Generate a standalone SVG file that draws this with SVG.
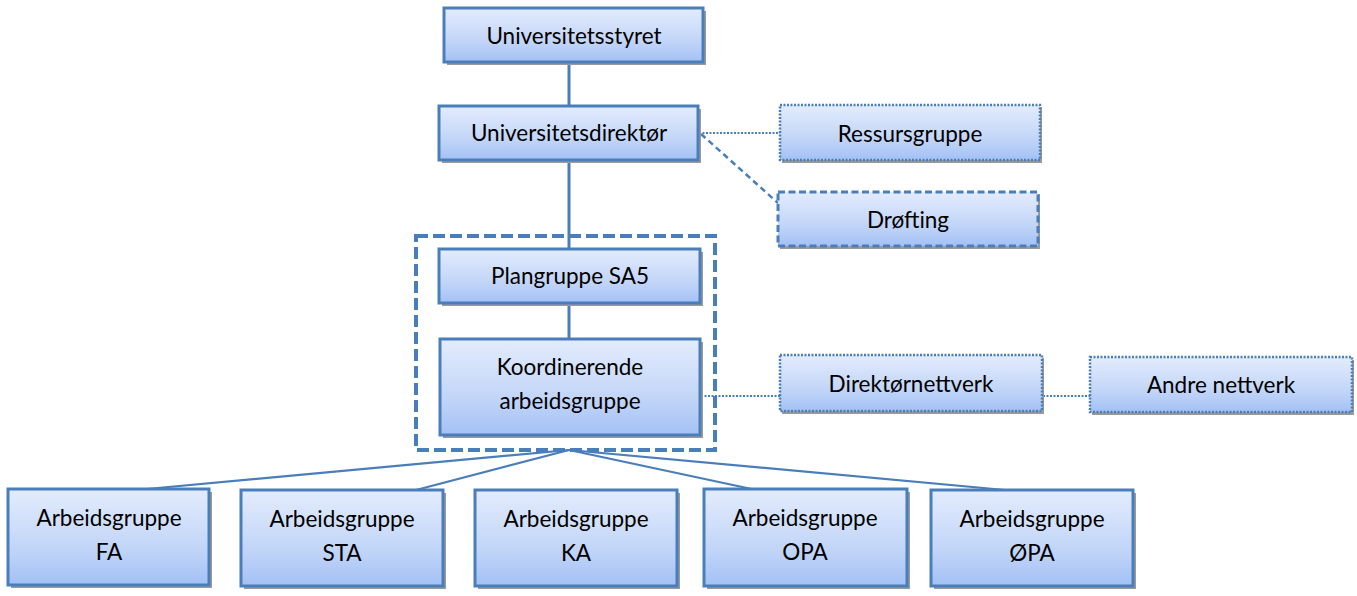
<svg xmlns="http://www.w3.org/2000/svg" width="1357" height="596" viewBox="0 0 1357 596">
<defs>
<linearGradient id="g" x1="0" y1="0" x2="0" y2="1">
<stop offset="0" stop-color="#e3ecfd"/>
<stop offset="0.6" stop-color="#c3d6f8"/>
<stop offset="1" stop-color="#a3c1f5"/>
</linearGradient>
</defs>
<style>
.box{fill:url(#g);stroke:#4a7ebb;stroke-width:3}
.dot{stroke-dasharray:2 1.5;stroke-width:2.5}
.dash{stroke-dasharray:7 3.5}
.sh{fill:#9a9a9a}
text{font-family:Lato,"Open Sans",sans-serif;font-size:22.5px;fill:#000;text-anchor:middle;dominant-baseline:central}
.ln{stroke:#4a7ebb;stroke-width:3;fill:none}
.thin{stroke:#4a7ebb;stroke-width:2.2;fill:none}
.dl{stroke:#4a7ebb;stroke-width:2;fill:none;stroke-dasharray:2 1.5}
.dsl{stroke:#4a7ebb;stroke-width:2.5;fill:none;stroke-dasharray:6 4}
</style>
<g id="connectors">
<line class="ln" x1="569" y1="62" x2="569" y2="106"/>
<line class="ln" x1="569" y1="160" x2="569" y2="249"/>
<line class="ln" x1="569" y1="303" x2="569" y2="339"/>
<line class="dl" x1="699" y1="133" x2="780" y2="133"/>
<line class="dsl" x1="701" y1="134" x2="778" y2="203"/>
<line class="dl" x1="701" y1="396" x2="780" y2="396"/>
<line class="dl" x1="1043" y1="396" x2="1090" y2="396"/>
<line class="thin" x1="569" y1="450" x2="147" y2="489"/>
<line class="thin" x1="569" y1="450" x2="416" y2="490"/>
<line class="thin" x1="569" y1="450" x2="761" y2="491"/>
<line class="thin" x1="569" y1="450" x2="1005" y2="490"/>
</g>
<g id="group-sa5">
<rect x="416" y="236" width="299" height="214" fill="none" stroke="#4a7ebb" stroke-width="4" stroke-dasharray="12 5"/>
</g>
<g id="n-styret">
<rect class="sh" x="447" y="11" width="259" height="54"/>
<rect class="box" x="444" y="8" width="259" height="54"/>
<text x="574" y="35">Universitetsstyret</text>
</g>
<g id="n-direktor">
<rect class="sh" x="442" y="109" width="259" height="54"/>
<rect class="box" x="439" y="106" width="259" height="54"/>
<text x="569" y="132">Universitetsdirektør</text>
</g>
<g id="n-ressurs">
<rect class="sh" x="782" y="107" width="260" height="56"/>
<rect class="box dot" x="780" y="105" width="260" height="55"/>
<text x="910" y="133">Ressursgruppe</text>
</g>
<g id="n-drofting">
<rect class="sh" x="780" y="194" width="260" height="55"/>
<rect class="box dash" x="778" y="192" width="260" height="54"/>
<text x="908" y="219">Drøfting</text>
</g>
<g id="n-plangruppe">
<rect class="sh" x="442" y="252" width="261" height="54"/>
<rect class="box" x="439" y="249" width="261" height="54"/>
<text x="570" y="275">Plangruppe SA5</text>
</g>
<g id="n-koordinerende">
<rect class="sh" x="443" y="342" width="260" height="96"/>
<rect class="box" x="440" y="339" width="260" height="96"/>
<text x="570" y="366">Koordinerende</text>
<text x="570" y="400">arbeidsgruppe</text>
</g>
<g id="n-direktornettverk">
<rect class="sh" x="782" y="358" width="262" height="56"/>
<rect class="box dot" x="780" y="355" width="262" height="56"/>
<text x="911" y="383">Direktørnettverk</text>
</g>
<g id="n-andre">
<rect class="sh" x="1092" y="360" width="262" height="55"/>
<rect class="box dot" x="1090" y="357" width="262" height="55"/>
<text x="1221" y="384">Andre nettverk</text>
</g>
<g id="n-fa">
<rect class="sh" x="11" y="492" width="201" height="96"/>
<rect class="box" x="8" y="489" width="201" height="96"/>
<text x="109" y="517">Arbeidsgruppe</text>
<text x="109" y="551">FA</text>
</g>
<g id="n-sta">
<rect class="sh" x="244" y="493" width="202" height="96"/>
<rect class="box" x="241" y="490" width="202" height="96"/>
<text x="342" y="518">Arbeidsgruppe</text>
<text x="342" y="552">STA</text>
</g>
<g id="n-ka">
<rect class="sh" x="478" y="493" width="202" height="96"/>
<rect class="box" x="475" y="490" width="202" height="96"/>
<text x="576" y="518">Arbeidsgruppe</text>
<text x="576" y="552">KA</text>
</g>
<g id="n-opa">
<rect class="sh" x="707" y="492" width="203" height="97"/>
<rect class="box" x="704" y="489" width="203" height="97"/>
<text x="805" y="517">Arbeidsgruppe</text>
<text x="805" y="551">OPA</text>
</g>
<g id="n-opa2">
<rect class="sh" x="934" y="493" width="202" height="96"/>
<rect class="box" x="931" y="490" width="202" height="96"/>
<text x="1032" y="518">Arbeidsgruppe</text>
<text x="1032" y="552">ØPA</text>
</g>
</svg>
